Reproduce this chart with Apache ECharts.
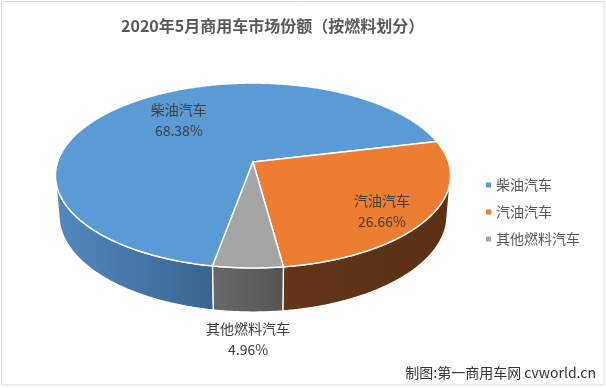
<!DOCTYPE html>
<html><head><meta charset="utf-8">
<script src="https://cdn.jsdelivr.net/npm/echarts@6/dist/echarts.min.js"></script>
<style>html,body{margin:0;padding:0;background:#fff}#c{width:606px;height:388px}</style>
</head><body><div id="c"></div>
<script>
// ---- data ----
const titleText = '2020年5月商用车市场份额（按燃料划分）';
const categories = ['柴油汽车', '汽油汽车', '其他燃料汽车'];
const shares = [68.38, 26.66, 4.96];
const shareLabels = ['68.38%', '26.66%', '4.96%'];
const sourceNote = '制图:第一商用车网 cvworld.cn';

// ---- styles ----
const FONT = '"Noto Sans CJK SC","Noto Sans",sans-serif';
const topColors = ['#5B9BD5', '#ED7D31', '#A5A5A5'];
const sideColors = [['#5389C0', '#3A6490'], ['#633519', '#5A3015'], ['#686868', '#555555']];
const labelFrac = [0.55, 0.75, 1.0];     // radial fraction of label anchor
const labelOnBottom = [false, false, true];
const labelShift = [-9, 8, 27];          // vertical nudge of the label

// ---- 3D pie projection ----
const CX = 253, CY = 162, R = 195.4, SIN_A = 0.463, COS_A = Math.sqrt(1 - SIN_A * SIN_A);
const DIST = 1186, H = 45.5, START = 190.2;
const total = shares.reduce((a, b) => a + b, 0);
const starts = [];
shares.reduce((acc, v, i) => { starts[i] = acc; return acc + v / total * 360; }, START);
const PHI_S = Math.acos(-R / (DIST * COS_A)) * 180 / Math.PI;
const VIS = [PHI_S, 360 - PHI_S];

function proj(phiDeg, r, y3) {
  const p = phiDeg * Math.PI / 180;
  const X = r * Math.sin(p), Z = -r * Math.cos(p);
  const v = -y3 * COS_A + Z * SIN_A;
  const w = Z * COS_A + y3 * SIN_A;
  const s = DIST / (DIST - w);
  return [CX + s * X, CY + s * v];
}
function arc(a0, a1, y3) {
  const pts = [];
  const n = Math.max(2, Math.ceil(Math.abs(a1 - a0) / 0.5));
  for (let k = 0; k <= n; k++) pts.push(proj(a0 + (a1 - a0) * k / n, R, y3));
  return pts;
}

function makeRender(i) {
  return function (params, api) {
    const a0 = starts[i];
    const a1 = a0 + api.value(0) / total * 360;
    const children = [];
    for (let k = -1; k <= 1; k++) {
      const lo = Math.max(a0, VIS[0] + 360 * k), hi = Math.min(a1, VIS[1] + 360 * k);
      if (hi > lo) {
        const pts = arc(lo, hi, 0).concat(arc(hi, lo, -H));
        const xs = pts.map(p => p[0]);
        const minX = Math.min(...xs), maxX = Math.max(...xs);
        children.push({
          type: 'polygon', z2: 1,
          shape: { points: pts },
          style: {
            fill: new echarts.graphic.LinearGradient(minX, 0, maxX, 0, [
              { offset: 0, color: sideColors[i][0] }, { offset: 1, color: sideColors[i][1] }], true),
            stroke: '#fff', lineWidth: 1.3
          }
        });
      }
    }
    const topPts = [proj(0, 0, 0)].concat(arc(a0, a1, 0));
    children.push({
      type: 'polygon', z2: 10,
      shape: { points: topPts },
      style: { fill: topColors[i], stroke: '#fff', lineWidth: 1.5, lineJoin: 'round' }
    });
    const mid = (a0 + a1) / 2;
    const anchor = proj(mid, R * labelFrac[i], labelOnBottom[i] ? -H : 0);
    children.push({
      type: 'text', z2: 30,
      style: {
        text: categories[i] + '\n' + shareLabels[i],
        x: anchor[0], y: anchor[1] + labelShift[i],
        align: 'center', verticalAlign: 'middle',
        fill: '#404040', fontSize: 14, fontFamily: FONT, lineHeight: 21
      }
    });
    return { type: 'group', children };
  };
}

const chart = echarts.init(document.getElementById('c'), null, { renderer: 'canvas' });
chart.setOption({
  backgroundColor: '#fff',
  animation: false,
  title: {
    text: titleText, left: 121, top: 15, padding: 0,
    textStyle: { fontSize: 16, fontWeight: 'bold', color: '#595959', fontFamily: FONT, lineHeight: 22 }
  },
  legend: {
    orient: 'vertical', left: 486, top: 176, padding: 0,
    itemWidth: 5, itemHeight: 5, itemGap: 9, itemGap: 9, itemTextGap: 7, icon: 'rect',
    textStyle: { fontSize: 14, color: '#595959', fontFamily: FONT, lineHeight: 18 },
    data: categories.map((c, i) => ({ name: c, itemStyle: { color: topColors[i] } }))
  },
  graphic: [
    { type: 'rect', shape: { x: 1.5, y: 1.5, width: 602.5, height: 383.5 }, style: { fill: 'none', stroke: '#d9d9d9', lineWidth: 1 }, silent: true },
    { type: 'text', right: 10, top: 366, style: { text: sourceNote, fill: '#333', fontSize: 14, fontFamily: FONT } }
  ],
  series: categories.map((c, i) => ({
    type: 'custom', name: c, coordinateSystem: 'none',
    itemStyle: { color: topColors[i] },
    data: [[shares[i]]],
    renderItem: makeRender(i)
  }))
});
</script></body></html>
